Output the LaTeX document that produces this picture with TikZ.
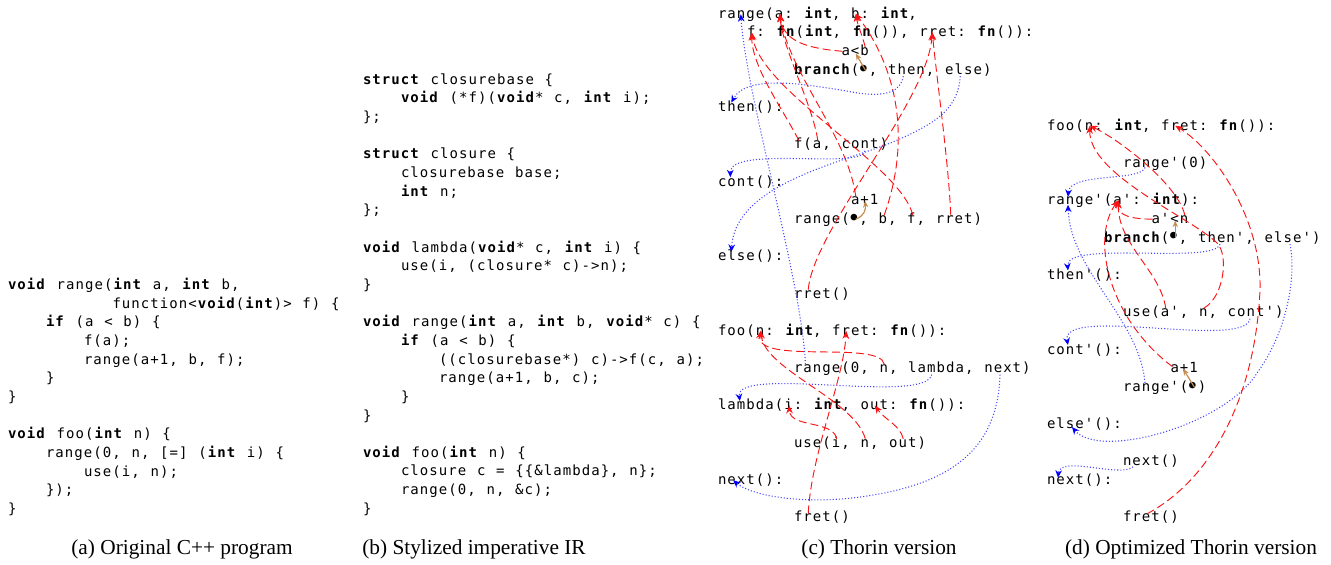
\documentclass[tikz,border=0pt]{standalone}
\usepackage{fontspec}
\setmonofont{DejaVu Sans Mono}[LetterSpace=7.6, WordSpace={1.127,0,0}]
\newfontfamily\capfamily{Liberation Serif}
\usetikzlibrary{arrows.meta,calc}
\definecolor{ctrlblue}{RGB}{70,70,250}
\definecolor{opbrown}{RGB}{195,140,80}
\definecolor{datared}{RGB}{250,20,20}
\newcommand\codefont{\ttfamily\fontsize{10.5pt}{14pt}\selectfont}
\newcommand\capfont{\capfamily\fontsize{16pt}{19pt}\selectfont}
\newcommand\pinc[4]{\coordinate (#1) at ($(#2.base west)+(#3,#4)$);}
\newcommand\bul{\makebox[7.125pt]{\raisebox{-0.6pt}{\fontsize{14pt}{14pt}\selectfont\textbf{•}}}}
\begin{document}
\begin{tikzpicture}[x=0.75pt,y=-0.75pt,
  code/.style={anchor=base west, inner sep=0pt, outer sep=0pt, font=\codefont},
  captext/.style={anchor=base, inner sep=0pt, outer sep=0pt, font=\capfont},
  dataedge/.style={draw=datared, line width=0.7pt, dash pattern=on 6pt off 3pt,
    -{Stealth[length=6pt,width=5pt,color=datared]}},
  ctrledge/.style={draw=ctrlblue, line width=0.8pt, dash pattern=on 0.8pt off 1.5pt,
    -{Stealth[length=5.5pt,width=5pt,color=blue]}},
  opedge/.style={draw=opbrown, line width=0.9pt, -{Stealth[length=5pt,width=4pt,color=opbrown]}}]
\useasboundingbox (0,0) rectangle (1331,564);

% ---------------- (a) ----------------
\node[code] (a0) at (8,289.5) {\textbf{void} range(\textbf{int} a, \textbf{int} b,};
\node[code] (a1) at (112.5,308.15) {function<\textbf{void}(\textbf{int})> f) \{};
\node[code] (a2) at (46,326.8) {\textbf{if} (a < b) \{};
\node[code] (a3) at (84,345.45) {f(a);};
\node[code] (a4) at (84,364.1) {range(a+1, b, f);};
\node[code] (a5) at (46,382.75) {\}};
\node[code] (a6) at (8,401.4) {\}};
\node[code] (a8) at (8,438.7) {\textbf{void} foo(\textbf{int} n) \{};
\node[code] (a9) at (46,457.35) {range(0, n, [=] (\textbf{int} i) \{};
\node[code] (a10) at (84,476) {use(i, n);};
\node[code] (a11) at (46,494.65) {\});};
\node[code] (a12) at (8,513.3) {\}};

% ---------------- (b) ----------------
\node[code] (b0) at (363,84.3) {\textbf{struct} closurebase \{};
\node[code] (b1) at (401,102.95) {\textbf{void} (*f)(\textbf{void}* c, \textbf{int} i);};
\node[code] (b2) at (363,121.6) {\};};
\node[code] (b4) at (363,158.9) {\textbf{struct} closure \{};
\node[code] (b5) at (401,177.55) {closurebase base;};
\node[code] (b6) at (401,196.2) {\textbf{int} n;};
\node[code] (b7) at (363,214.85) {\};};
\node[code] (b9) at (363,252.15) {\textbf{void} lambda(\textbf{void}* c, \textbf{int} i) \{};
\node[code] (b10) at (401,270.8) {use(i, (closure* c)->n);};
\node[code] (b11) at (363,289.45) {\}};
\node[code] (b13) at (363,326.75) {\textbf{void} range(\textbf{int} a, \textbf{int} b, \textbf{void}* c) \{};
\node[code] (b14) at (401,345.4) {\textbf{if} (a < b) \{};
\node[code] (b15) at (439,364.05) {((closurebase*) c)->f(c, a);};
\node[code] (b16) at (439,382.7) {range(a+1, b, c);};
\node[code] (b17) at (401,401.35) {\}};
\node[code] (b18) at (363,420) {\}};
\node[code] (b20) at (363,457.3) {\textbf{void} foo(\textbf{int} n) \{};
\node[code] (b21) at (401,475.95) {closure c = \{\{\&lambda\}, n\};};
\node[code] (b22) at (401,494.6) {range(0, n, \&c);};
\node[code] (b23) at (363,513.25) {\}};

% ---------------- (c) ----------------
\node[code] (c0) at (718,18.3) {range(a: \textbf{int}, b: \textbf{int},};
\node[code] (c1) at (747,36.95) {f: \textbf{fn}(\textbf{int}, \textbf{fn}()), rret: \textbf{fn}()):};
\node[code] (c2) at (841.5,55.6) {a<b};
\node[code] (c3) at (794,74.25) {\textbf{branch}(\bul, then, else)};
\node[code] (c5) at (718,111.55) {then():};
\node[code] (c7) at (794,148.85) {f(a, cont)};
\node[code] (c9) at (718,186.15) {cont():};
\node[code] (c10) at (851,204.8) {a+1};
\node[code] (c11) at (794,223.45) {range(\bul, b, f, rret)};
\node[code] (c13) at (718,260.75) {else():};
\node[code] (c15) at (794,298.05) {rret()};
\node[code] (c17) at (718,335.35) {foo(n: \textbf{int}, fret: \textbf{fn}()):};
\node[code] (c19) at (794,372.65) {range(0, n, lambda, next)};
\node[code] (c21) at (718,409.95) {lambda(i: \textbf{int}, out: \textbf{fn}()):};
\node[code] (c23) at (794,447.25) {use(i, n, out)};
\node[code] (c25) at (718,484.55) {next():};
\node[code] (c27) at (794,521.85) {fret()};

\pinc{tA}{c0}{61.75}{-4.5}
\pinc{tB}{c0}{137.75}{-4.5}
\pinc{tRange}{c0}{22.8}{-4}
\pinc{tF}{c1}{4.75}{-4.5}
\pinc{tRret}{c1}{185.25}{-4.5}
\pinc{sLtA}{c2}{1}{-4.3}
\pinc{sLtB}{c2}{23.75}{-8.5}
\pinc{oLt}{c2}{14.25}{-2}
\pinc{bul1}{c3}{71.25}{-4.3}
\pinc{sThen}{c3}{109.25}{2}
\pinc{sElse}{c3}{166.25}{2}
\pinc{tThen}{c5}{13.3}{-9}
\pinc{sFf}{c7}{4.75}{-8.5}
\pinc{sFa}{c7}{23.75}{-8.5}
\pinc{sCont}{c7}{71}{2}
\pinc{tCont}{c9}{12.35}{-9}
\pinc{sPa}{c10}{4.75}{-8.5}
\pinc{oPl}{c10}{14}{-4}
\pinc{bul2}{c11}{61.75}{-4.3}
\pinc{sRb}{c11}{90.25}{-8.5}
\pinc{sRf}{c11}{118.75}{-8.5}
\pinc{sRr}{c11}{156.75}{-8.5}
\pinc{tElse}{c13}{13.3}{-9}
\pinc{sRret}{c15}{14.25}{-8.5}
\pinc{tN}{c17}{42.75}{-4.5}
\pinc{tFret}{c17}{128.25}{-4.5}
\pinc{sRange}{c19}{11.4}{-8.5}
\pinc{sRn}{c19}{90.25}{-8.5}
\pinc{sLam}{c19}{137.75}{2}
\pinc{sNext}{c19}{206}{2}
\pinc{tLam}{c21}{21.85}{-9}
\pinc{tI}{c21}{71.25}{-4.5}
\pinc{tOut}{c21}{156.75}{-4.5}
\pinc{sUi}{c23}{42.75}{-8.5}
\pinc{sUn}{c23}{71.25}{-8.5}
\pinc{sUo}{c23}{109.25}{-8.5}
\pinc{tNext}{c25}{15.2}{-4.3}
\pinc{sFret}{c27}{14.25}{-8.5}

% data edges (c)
\draw[dataedge] (sLtA) .. controls +(-35,-3) and +(4,28) .. (tA);
\draw[dataedge] (sLtB) .. controls +(-3,-12) and +(2,12) .. (tB);
\draw[dataedge] (sFf) .. controls +(-15,-30) and +(0,35) .. (tF);
\draw[dataedge] (sFa) .. controls +(-5,-35) and +(3,35) .. (tA);
\draw[dataedge] (sPa) .. controls +(-8,-60) and +(10,60) .. (tA);
\draw[dataedge] (sRb) .. controls +(25,-70) and +(45,60) .. (tB);
\draw[dataedge] (sRf) .. controls +(-12,-50) and +(10,60) .. (tF);
\draw[dataedge] (sRr) .. controls +(-2,-50) and +(5,50) .. (tRret);
\draw[dataedge] (sRret) .. controls +(5,-60) and +(-5,70) .. (tRret);
\draw[dataedge] (sRn) .. controls (880,340) and (755,365) .. (tN);
\draw[dataedge] (sUn) .. controls (855,400) and (765,370) .. (tN);
\draw[dataedge] (sUi) .. controls (833,420) and (790,428) .. (tI);
\draw[dataedge] (sUo) .. controls (900,425) and (885,420) .. (tOut);
\draw[dataedge] (sFret) .. controls +(3,-60) and +(-3,50) .. (tFret);
% control edges (c)
\draw[ctrledge] (sThen) .. controls (901,92) and (885,97) .. (858,93) .. controls (815,86) and (748,72) .. (tThen);
\draw[ctrledge] (sElse) .. controls (958,110) and (935,125) .. (883,146) .. controls (820,168) and (735,190) .. (tElse);
\draw[ctrledge] (sCont) .. controls (862,170) and (730,145) .. (tCont);
\draw[ctrledge] (sRange) .. controls +(-3,-80) and +(5,80) .. (tRange);
\draw[ctrledge] (sLam) .. controls (925,405) and (735,365) .. (tLam);
\draw[ctrledge] (sNext) .. controls (998,450) and (950,485) .. (860,497) .. controls (800,505) and (750,495) .. (tNext);
% operand edges (c)
\draw[opedge] (bul1) -- (oLt);
\draw[opedge] (bul2) .. controls (864,216) and (866,210) .. (oPl);

% ---------------- (d) ----------------
\node[code] (d6) at (1047,130.2) {foo(n: \textbf{int}, fret: \textbf{fn}()):};
\node[code] (d8) at (1123,167.5) {range'(0)};
\node[code] (d10) at (1047,204.8) {range'(a': \textbf{int}):};
\node[code] (d11) at (1151.5,223.45) {a'<n};
\node[code] (d12) at (1104,242.1) {\textbf{branch}(\bul, then', else')};
\node[code] (d14) at (1047,279.4) {then'():};
\node[code] (d16) at (1123,316.7) {use(a', n, cont')};
\node[code] (d18) at (1047,354) {cont'():};
\node[code] (d19) at (1170.5,372.65) {a+1};
\node[code] (d20) at (1123,391.3) {range'(\bul)};
\node[code] (d22) at (1047,428.6) {else'():};
\node[code] (d24) at (1123,465.9) {next()};
\node[code] (d25) at (1047,484.55) {next():};
\node[code] (d27) at (1123,521.85) {fret()};

\pinc{uN}{d6}{42.75}{-4.5}
\pinc{uFret}{d6}{128.25}{-4.5}
\pinc{vR0}{d8}{22}{0}
\pinc{uRtop}{d10}{21}{-8}
\pinc{uRbot}{d10}{21}{0}
\pinc{uAp}{d10}{71.25}{-4.5}
\pinc{vLa}{d11}{1}{-4.3}
\pinc{vLn}{d11}{33.25}{-8.5}
\pinc{oLt2}{d11}{23.75}{-3}
\pinc{bul3}{d12}{71.25}{-4.3}
\pinc{vThen}{d12}{116}{2}
\pinc{vElse}{d12}{186}{2}
\pinc{uThen}{d14}{21}{-9}
\pinc{vUa}{d16}{42.75}{-8.5}
\pinc{vUn}{d16}{80.75}{-8.5}
\pinc{vCont}{d16}{127}{2}
\pinc{uCont}{d18}{21}{-9}
\pinc{vA1}{d19}{2}{-6}
\pinc{oPl2}{d19}{12.5}{-4}
\pinc{vR1}{d20}{22}{-8.5}
\pinc{bul4}{d20}{71.25}{-4.3}
\pinc{uElse}{d22}{25}{-1.5}
\pinc{vNext}{d24}{10}{1}
\pinc{uNext}{d25}{11}{-7}
\pinc{vFret}{d27}{24}{-8}

% data edges (d)
\draw[dataedge] (vLa) .. controls (1132,219) and (1118,216) .. (uAp);
\draw[dataedge] (vLn) .. controls (1178,185) and (1120,140) .. (uN);
\draw[dataedge] (vUn) .. controls (1224,297) and (1229,255) .. (1217,243) .. controls (1192,218) and (1089,175) .. (uN);
\draw[dataedge] (vUa) .. controls (1160,270) and (1118,245) .. (uAp);
\draw[dataedge] (vA1) .. controls (1110,320) and (1090,240) .. (uAp);
\draw[dataedge] (vFret) .. controls (1210,480) and (1255,400) .. (1260,290) .. controls (1262,220) and (1215,150) .. (uFret);
% control edges (d)
\draw[ctrledge] (vR0) .. controls (1140,182) and (1070,172) .. (uRtop);
\draw[ctrledge] (vR1) .. controls (1140,320) and (1070,270) .. (uRbot);
\draw[ctrledge] (vThen) .. controls (1215,265) and (1065,240) .. (uThen);
\draw[ctrledge] (vElse) .. controls (1297,280) and (1285,335) .. (1257,373) .. controls (1225,425) and (1100,460) .. (uElse);
\draw[ctrledge] (vCont) .. controls (1245,350) and (1060,305) .. (uCont);
\draw[ctrledge] (vNext) .. controls (1120,478) and (1060,455) .. (uNext);
% operand edges (d)
\draw[opedge] (bul3) -- (oLt2);
\draw[opedge] (bul4) -- (oPl2);

% ---------------- captions ----------------
\node[captext] (capa) at (182,554) {(a) Original C++ program};
\node[captext] (capb) at (474,554) {(b) Stylized imperative IR};
\node[captext] (capc) at (879,554) {(c) Thorin version};
\node[captext] (capd) at (1191,554) {(d) Optimized Thorin version};
\end{tikzpicture}
\end{document}
